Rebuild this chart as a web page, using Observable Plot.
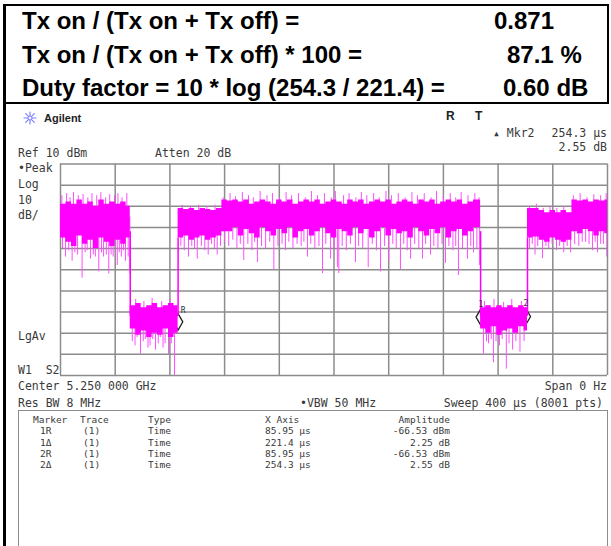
<!DOCTYPE html>
<html><head><meta charset="utf-8">
<script src="https://cdn.jsdelivr.net/npm/d3@7"></script>
<script src="https://cdn.jsdelivr.net/npm/@observablehq/plot@0.6"></script>
<style>
body{margin:0;background:#fff}
#wrap{position:relative;width:611px;height:546px;overflow:hidden;background:#fff}
.t{position:absolute;white-space:pre;line-height:1;transform:translateY(-50%)}
.r{transform:translate(-100%,-50%)}
.big{font:bold 24px "Liberation Sans",Arial,sans-serif;color:#000}
.sa{font:11.5px "DejaVu Sans Mono",monospace;color:#3a3a3a}
.tb{font:9.5px "DejaVu Sans Mono",monospace;color:#3a3a3a}
.ln{position:absolute;background:#000}
</style></head><body><div id="wrap"></div>
<script>
// ---- summary text ----
const summaryLabels = ["Tx on / (Tx on + Tx off) =", "Tx on / (Tx on + Tx off) * 100 =", "Duty factor = 10 * log (254.3 / 221.4) ="];
const summaryValues = ["0.871", "87.1 %", "0.60 dB"];

// ---- analyzer settings ----
const refLevel = 10;        // dBm
const dbPerDiv = 10;
const sweepUs = 400;
const xGrid = [0,40,80,120,160,200,240,280,320,360,400];
const yGrid = [10,0,-10,-20,-30,-40,-50,-60,-70,-80,-90];

// ---- dense core of the trace ----
const coreTime = [0,4,8,12,16,20,24,28,32,36,40,44,48,
  51,55,59,63,67,71,75,79,83,
  86,90,94,98,102,106,110,114,
  118,122,126,130,134,138,142,146,150,154,158,162,166,170,174,178,182,186,190,194,198,202,206,210,214,218,222,226,230,234,238,242,246,250,254,258,262,266,270,274,278,282,286,290,294,298,302,
  307.2,311,315,319,323,327,331,335,339,
  341.5,345.5,
  350,354,358,362,366,370,
  374,378,382,386,390,394,398,
  400];
const coreTop = [-9,-8,-9,-7,-9,-8,-10,-7,-9,-8,-9,-8,-10,
  -57,-56,-58,-57,-56,-58,-57,-56,-57,
  -11,-11.5,-11,-12,-11,-11.5,-12,-11,
  -7,-7.5,-7,-8,-7,-9,-8,-7,-8,-9,-7,-8,-7,-9,-8,-7,-8,-7,-9,-8,-7,-8,-9,-7,-8,-7,-9,-8,-7,-8,-7,-9,-8,-7,-8,-9,-7,-8,-7,-9,-8,-7,-8,-7,-9,-8,-7,
  -58,-57,-58,-57,-58,-57,-58,-57,-58,
  -11,-11,
  -12,-13,-12,-13,-12,-13,
  -7,-7.5,-7,-8,-7,-7.5,-7,
  -7];
const coreBottom = [-25,-27,-29,-24,-28,-26,-30,-25,-27,-29,-26,-28,-25,
  -68,-71,-69,-72,-70,-71,-68,-72,-70,
  -25,-24,-26,-25,-24,-26,-25,-24,
  -22,-22,-20,-24,-21,-23,-25,-20,-22,-24,-21,-23,-20,-25,-22,-21,-24,-22,-20,-23,-25,-21,-22,-24,-20,-23,-21,-25,-22,-20,-24,-21,-23,-22,-25,-20,-22,-24,-21,-23,-20,-25,-22,-21,-24,-22,-20,
  -68,-70,-67,-71,-69,-68,-70,-67,-69,
  -25,-24.5,
  -26,-27,-25,-26,-27,-26,
  -22,-23,-21,-22,-24,-22,-23,
  -23];
// on/off edges
const edgeTime = [51, 86, 307.2, 341.5];
const edgeTop  = [-22, -25, -22, -25];
const edgeBot  = [-62, -62, -62, -62];

// downward spikes (us, dBm)
const dipTime = [1.5,3.7,6,8.5,10.5,12.5,15.8,18,19.5,21.9,24,25.5,28,30,31.5,33.5,35.3,37,38.5,41.5,43,44.5,46,47.5,49.5,50.7,
  52.5,54.5,56,58.5,60.5,62,64,65.5,67.5,69.5,71.5,73,75,76.5,79,81,83.4,
  88,90.5,93.6,96,98,100,103,105.5,108,110.5,112.5,114.6,117,
  120,123,126,129,131.5,134,137,140,142,144,147,150,153,156,159,162,164.5,167,170,173,176,178,180.6,183,186,189,191.6,194,197.5,200,202.5,203.5,206,209,212,215.7,218,221,225,228,231,234,237,240,243,245.5,248.6,251,253.5,256,259,262,264.7,267,270.6,273,276,279,281.5,284,287,289,291,294,297.6,300,302,304.5,306.5,
  309.3,311.5,313,315,316.6,318.5,321,323,326,328,330.6,333,336,339,
  343,345,347,349,352.5,355,357,359.5,362.7,365,368,370.5,373,376,379,381.5,384,386.5,389,391,392.7,395,397,399.5];
const dipLevel = [-30,-34,-31,-36,-32,-33,-44,-32,-31,-35,-33,-34,-41,-32,-34,-33,-42,-33,-34,-38,-32,-34,-31,-36,-34,-42,
  -74,-76,-72,-80,-74,-73,-77,-76,-73,-78,-75,-72,-77,-75,-80,-75,-92,
  -29,-31,-34,-29,-30,-35,-29,-31,-33,-28,-30,-33,-29,
  -27,-29,-26,-30,-28,-35.6,-28,-31,-27,-36.6,-29,-30,-27,-40,-29,-28,-31,-27,-30,-28,-29,-27,-34,-28,-30,-29,-41.8,-28,-35,-30,-39,-41.8,-29,-31,-28,-36.6,-29,-30,-39,-28,-31,-41,-29,-36,-28,-30,-40,-28,-31,-35,-28,-30,-35,-28,-33,-29,-30,-28,-37,-29,-31,-29,-42.7,-30,-35,-29,-32,-30,-38,
  -80,-74,-75,-73,-84,-74,-76,-73,-87,-75,-78,-74,-79,-74,
  -30,-28,-33,-29,-34.7,-29,-30,-28,-31,-29,-32,-29,-32,-28,-29,-27,-27,-28,-31,-27,-32,-28,-28,-34];
// upward spikes (us, dBm)
const peakTime = [1,4.5,7,9.5,13,16.5,20,23,26.5,29.5,33,36,39.5,42,45,48.5,
  55,61,67,74,80,
  89,95,101,107,113,
  119,124,128,133,137.5,141,146,151,155,160,165,169,174,179,183.5,188,193,198,201,207,211,216,220,224,229,233,238,242,247,252,257,261,266,271,275,280,285,289,293,298,303,306,
  310,317,324,330,337,
  343,348,353,358,363,368,375,380,385,390,395,399];
const peakLevel = [-5,-4,-6,-3.5,-5,-4.5,-6,-4,-5,-3.5,-6,-4.5,-5,-4,-6,-4,
  -54,-55,-53.5,-55,-54,
  -9.5,-10,-9.5,-10,-9.5,
  -6,-4,-5.5,-3.5,-5,-6,-3,-5,-4,-6,-3.5,-5,-4,-6,-3,-5,-4,-6,-3,-5,-4,-6,-3.5,-5,-4,-6,-3,-5,-4,-6,-3.5,-5,-4,-6,-3,-5,-4,-6,-3.5,-5,-4,-6,
  -55,-54,-55.5,-54,-55,
  -10,-9,-11,-10,-11,-10,-5,-4,-6,-4.5,-5,-4];

// ---- markers ----
const markerName = ["1R","1\u0394","2R","2\u0394"];
const markerTrace = ["(1)","(1)","(1)","(1)"];
const markerType = ["Time","Time","Time","Time"];
const markerXText = ["85.95 \u00b5s","221.4 \u00b5s","85.95 \u00b5s","254.3 \u00b5s"];
const markerAmpText = ["-66.53 dBm","2.25 dB","-66.53 dBm","2.55 dB"];
const markerRefTime = 85.95, markerRefAmp = -66.53;
const deltaTime = [221.4, 254.3];
const deltaAmp = [2.25, 2.55];
const deltaLabel = ["1","2"];

// ---- build ----
const wrap = document.getElementById("wrap");
const core = coreTime.map((t,i)=>({t, top: coreTop[i], bot: coreBottom[i]}));
const edges = edgeTime.map((t,i)=>({t, y1:edgeBot[i], y2:edgeTop[i]}));
const base = v => v > -50 ? -15 : -62;
const dips = dipTime.map((t,i)=>({t, y1: dipLevel[i], y2: base(dipLevel[i])}));
const peaks = peakTime.map((t,i)=>({t, y1: peakLevel[i], y2: base(peakLevel[i])}));
const refMk = [{t: markerRefTime, v: markerRefAmp, lab: "R"}];
const dMk = deltaTime.map((d,i)=>({t: markerRefTime + d, v: markerRefAmp + deltaAmp[i], lab: deltaLabel[i]}));
const allMk = refMk.concat(dMk);

const svg = Plot.plot({
  width: 611, height: 546,
  marginLeft: 60, marginRight: 4, marginTop: 163.5, marginBottom: 171,
  x: {domain: [0, sweepUs], axis: null},
  y: {domain: [refLevel - 10*dbPerDiv, refLevel], axis: null},
  marks: [
    Plot.ruleX(xGrid, {stroke: "#8c8c8c", strokeWidth: 1.5}),
    Plot.ruleY(yGrid, {stroke: "#8c8c8c", strokeWidth: 1.5}),
    Plot.dot(allMk, {x: "t", y: "v", dy: -4, symbol: "diamond", r: 5, stroke: "#222", strokeWidth: 1.3, fill: "none"}),
    Plot.ruleX(dips, {x: "t", y1: "y1", y2: "y2", stroke: "#ff4dff", strokeWidth: 1, clip: true}),
    Plot.ruleX(peaks, {x: "t", y1: "y1", y2: "y2", stroke: "#ff4dff", strokeWidth: 1, clip: true}),
    Plot.areaY(core, {x: "t", y1: "bot", y2: "top", curve: "step-after", fill: "#ff00ff"}),
    Plot.ruleX(edges, {x: "t", y1: "y1", y2: "y2", stroke: "#ff00ff", strokeWidth: 1.5}),
    Plot.text(refMk, {x: "t", y: "v", text: "lab", dx: 5, dy: -15, fill: "#333", fontSize: 8, fontFamily: "DejaVu Sans Mono"}),
    Plot.text(dMk, {x: "t", y: "v", text: "lab", dx: 0, dy: -17, fill: "#333", fontSize: 8, fontFamily: "DejaVu Sans Mono"})
  ]
});
svg.style.position = "absolute"; svg.style.left = "0px"; svg.style.top = "0px";
wrap.appendChild(svg);

function line(x,y,w,h,c){ const d=document.createElement("div"); d.className="ln"; Object.assign(d.style,{left:x+"px",top:y+"px",width:w+"px",height:h+"px"}); if(c) d.style.background=c; wrap.appendChild(d); }
function T(txt,x,y,cls,right){ const d=document.createElement("div"); d.className="t "+cls+(right?" r":""); d.textContent=txt; d.style.left=x+"px"; d.style.top=y+"px"; wrap.appendChild(d); return d; }

// frame
line(3,4,606,2); line(3,4,3,542); line(607,4,2,100); line(3,102,606,2);
// summary
const rowY = [21, 55, 88];
const valX = [494, 507, 503];
summaryLabels.forEach((s,i)=>{ T(s,22,rowY[i],"big"); T(summaryValues[i],valX[i],rowY[i],"big"); });

// header: Agilent logo spark
const starDiv = document.createElement("div");
Object.assign(starDiv.style, {position: "absolute", left: "23px", top: "111px", width: "14px", height: "14px"});
starDiv.innerHTML = '<svg width="14" height="14" viewBox="-7 -7 14 14" style="display:block"><g stroke="#7a7aff" stroke-width="1.1" stroke-linecap="round">' +
  '<line x1="0" y1="-6" x2="0" y2="6"/><line x1="-6" y1="0" x2="6" y2="0"/>' +
  '<line x1="-4.3" y1="-4.3" x2="4.3" y2="4.3"/><line x1="-4.3" y1="4.3" x2="4.3" y2="-4.3"/></g>' +
  '<circle r="2" fill="#fff" stroke="#7a7aff" stroke-width="1"/></svg>';
wrap.appendChild(starDiv);
const ag = T("Agilent",44,118,"sa"); ag.style.font='bold 11px "Liberation Sans",Arial,sans-serif'; ag.style.color="#222";
const rr = T("R",446,116,"sa"); rr.style.font='bold 12px "Liberation Sans",Arial,sans-serif'; rr.style.color="#222";
const tt = T("T",475,116,"sa"); tt.style.font='bold 12px "Liberation Sans",Arial,sans-serif'; tt.style.color="#222";
T("\u25b4 Mkr2",493,133,"sa");
T("254.3 \u00b5s",607,133,"sa",true);
T("2.55 dB",607,147,"sa",true);
T("Ref 10 dBm",18,153,"sa");
T("Atten 20 dB",155,153,"sa");
T("\u2022Peak",18,168,"sa");
T("Log",18,184,"sa");
T("10",18,200,"sa");
T("dB/",18,215,"sa");
T("LgAv",18,336,"sa");
T("W1  S2",18,370,"sa");
T("Center 5.250 000 GHz",18,386,"sa");
T("Span 0 Hz",607,386,"sa",true);
T("Res BW 8 MHz",18,403,"sa");
T("\u2022VBW 50 MHz",300,403,"sa");
T("Sweep 400 \u00b5s (8001 pts)",603,403,"sa",true);

// marker table
line(18,410,590,1,"#8c8c8c"); line(18,410,1,140,"#8c8c8c"); line(607,410,1,140,"#8c8c8c");
const colX = [33, 80, 148, 265];
const hdrY = 419, rowH = 11.3;
T("Marker",colX[0],hdrY,"tb"); T("Trace",colX[1],hdrY,"tb"); T("Type",colX[2],hdrY,"tb"); T("X Axis",colX[3],hdrY,"tb"); T("Amplitude",450,hdrY,"tb",true);
markerName.forEach((m,i)=>{
  const y = hdrY + rowH*(i+1);
  T(m,colX[0]+7,y,"tb"); T(markerTrace[i],colX[1]+3,y,"tb"); T(markerType[i],colX[2],y,"tb");
  T(markerXText[i],colX[3],y,"tb"); T(markerAmpText[i],450,y,"tb",true);
});
</script></body></html>
